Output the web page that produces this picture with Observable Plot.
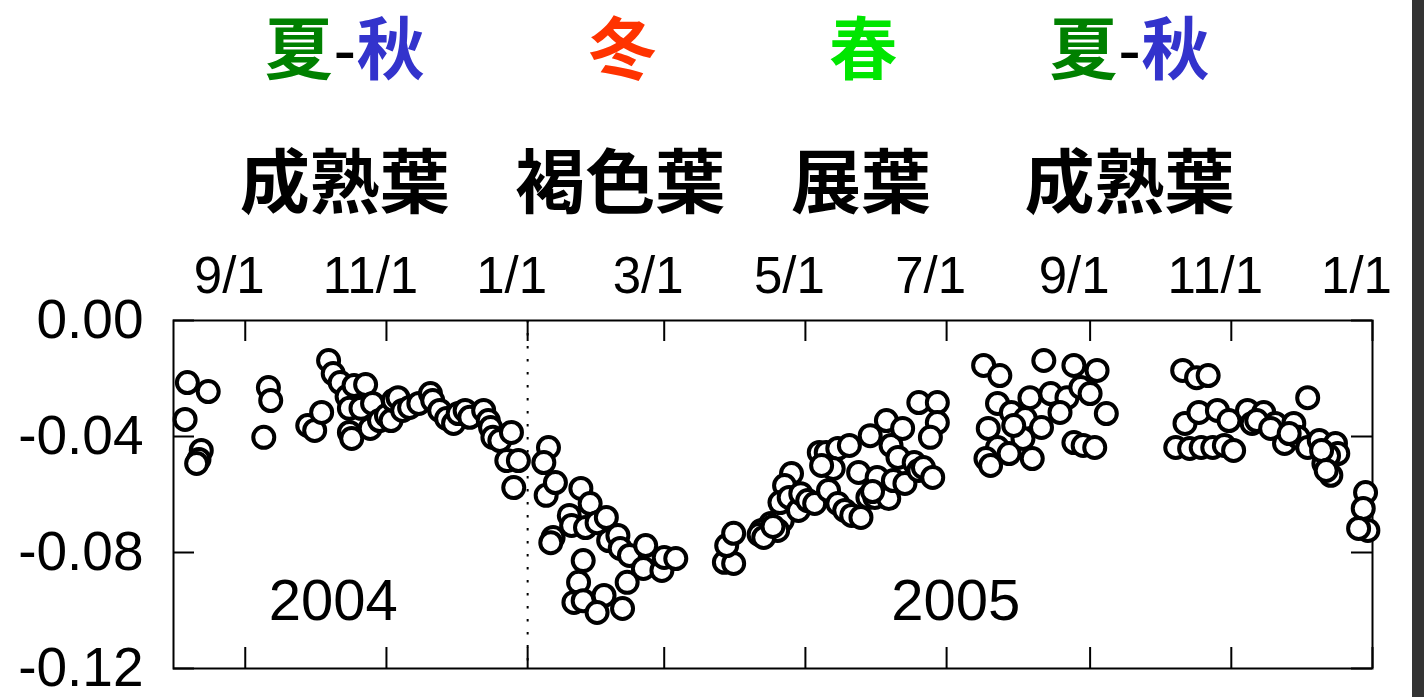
<!DOCTYPE html>
<html><head><meta charset="utf-8">
<script src="https://cdn.jsdelivr.net/npm/d3@7"></script>
<script src="https://cdn.jsdelivr.net/npm/@observablehq/plot@0.6"></script>
<style>
body{margin:0;background:#fff;overflow:hidden;width:1428px;height:697px}
#chart{position:absolute;left:0;top:0}
#edge{position:absolute;left:1412px;top:0;width:12px;height:697px;background:#333}
</style></head><body>
<div id="chart"></div><div id="edge"></div>
<script>
// ---- data ----
const dates = [
"2004-08-07","2004-08-16","2004-08-06","2004-08-13","2004-08-12","2004-08-11",
"2004-09-11","2004-09-12","2004-09-09",
"2004-09-28","2004-10-01","2004-10-04","2004-10-07","2004-10-09","2004-10-12","2004-10-15","2004-10-16","2004-10-16","2004-10-17",
"2004-10-18","2004-10-23","2004-10-21","2004-10-26","2004-10-25","2004-10-29","2004-11-01","2004-11-03","2004-11-04","2004-11-06",
"2004-11-08","2004-11-11","2004-11-15","2004-11-20","2004-11-21","2004-11-24","2004-11-27","2004-11-30","2004-12-02","2004-12-05",
"2004-12-07","2004-12-13","2004-12-15","2004-12-16","2004-12-17","2004-12-20","2004-12-25","2004-12-23","2004-12-28","2004-12-26",
"2005-01-10","2005-01-08","2005-01-09","2005-01-13","2005-01-24","2005-01-28","2005-01-19","2005-01-20","2005-01-12","2005-01-11",
"2005-01-26","2005-01-31","2005-02-04","2005-02-05","2005-02-09","2005-02-10","2005-02-14","2005-02-21","2005-02-20","2005-02-28",
"2005-03-01","2005-03-06","2005-01-25","2005-01-23","2005-01-21","2005-01-25","2005-02-03","2005-01-31","2005-02-11","2005-02-13",
"2005-03-27","2005-03-31","2005-03-28","2005-03-31",
"2005-04-14","2005-04-16","2005-04-21","2005-04-19","2005-04-12","2005-04-25","2005-04-22","2005-04-20","2005-04-24","2005-04-28",
"2005-04-29","2005-05-02","2005-05-05","2005-05-07","2005-05-10","2005-05-15","2005-05-20","2005-05-13","2005-05-11","2005-05-15",
"2005-05-18","2005-05-21","2005-05-25","2005-05-24","2005-05-28","2005-06-01","2005-05-31","2005-06-06","2005-06-05","2005-05-29",
"2005-06-07","2005-06-12","2005-06-10","2005-06-08","2005-06-13","2005-06-17","2005-06-19","2005-06-21","2005-06-25","2005-06-19",
"2005-06-27","2005-06-27","2005-06-24",
"2005-04-11","2005-04-13","2005-04-17","2005-05-08","2005-05-30",
"2005-07-17","2005-07-24","2005-08-12","2005-08-25","2005-09-04","2005-07-23","2005-07-29","2005-08-06","2005-08-15","2005-08-22",
"2005-08-28","2005-09-01","2005-09-08","2005-07-19","2005-08-04","2005-08-11","2005-08-19","2005-08-03","2005-07-23","2005-07-28",
"2005-08-07","2005-07-18","2005-07-20","2005-07-30","2005-08-25","2005-08-29","2005-09-03",
"2005-10-11","2005-10-17","2005-10-22","2005-12-04","2005-10-12","2005-10-18","2005-10-26","2005-10-31","2005-11-08","2005-11-15",
"2005-10-08","2005-10-14","2005-10-19","2005-10-24","2005-10-29","2005-11-02","2005-11-10","2005-11-20","2005-11-24","2005-11-28",
"2005-11-30","2005-12-04","2005-12-09","2005-12-11","2005-12-14","2005-12-16","2005-12-17","2005-12-29","2005-12-28","2005-12-30",
"2005-12-26","2005-11-12","2005-11-18","2005-11-26","2005-12-13","2005-12-10","2005-12-12"
];
const values = [
-0.0214,-0.0245,-0.0341,-0.0448,-0.0479,-0.0493,
-0.0231,-0.0276,-0.0403,
-0.0362,-0.0379,-0.0317,-0.0138,-0.0183,-0.0214,-0.0262,-0.0303,-0.0386,-0.0407,
-0.0224,-0.0221,-0.0303,-0.0286,-0.0372,-0.0345,-0.0328,-0.0345,-0.0276,-0.0266,
-0.0310,-0.0300,-0.0286,-0.0252,-0.0276,-0.0310,-0.0338,-0.0355,-0.0321,-0.0310,
-0.0334,-0.0310,-0.0345,-0.0369,-0.0403,-0.0414,-0.0386,-0.0483,-0.0483,-0.0576,
-0.0438,-0.0490,-0.0603,-0.0559,-0.0579,-0.0631,-0.0672,-0.0707,-0.0748,-0.0766,
-0.0714,-0.0697,-0.0679,-0.0759,-0.0741,-0.0786,-0.0810,-0.0776,-0.0855,-0.0862,
-0.0817,-0.0821,-0.0828,-0.0903,-0.0972,-0.0966,-0.0948,-0.1007,-0.0993,-0.0903,
-0.0834,-0.0838,-0.0776,-0.0734,
-0.0731,-0.0700,-0.0690,-0.0724,-0.0724,-0.0528,-0.0569,-0.0628,-0.0610,-0.0655,
-0.0597,-0.0621,-0.0631,-0.0455,-0.0455,-0.0441,-0.0431,-0.0510,-0.0586,-0.0631,
-0.0655,-0.0672,-0.0679,-0.0524,-0.0610,-0.0541,-0.0610,-0.0614,-0.0345,-0.0397,
-0.0431,-0.0372,-0.0472,-0.0552,-0.0562,-0.0490,-0.0517,-0.0507,-0.0541,-0.0283,
-0.0283,-0.0352,-0.0403,
-0.0738,-0.0748,-0.0710,-0.0500,-0.0590,
-0.0155,-0.0190,-0.0138,-0.0155,-0.0172,-0.0286,-0.0317,-0.0266,-0.0252,-0.0266,
-0.0231,-0.0252,-0.0321,-0.0372,-0.0338,-0.0369,-0.0317,-0.0407,-0.0438,-0.0459,
-0.0476,-0.0476,-0.0500,-0.0362,-0.0421,-0.0431,-0.0438,
-0.0172,-0.0197,-0.0190,-0.0266,-0.0355,-0.0317,-0.0310,-0.0345,-0.0310,-0.0317,
-0.0438,-0.0441,-0.0438,-0.0438,-0.0431,-0.0448,-0.0355,-0.0355,-0.0424,-0.0355,
-0.0403,-0.0438,-0.0414,-0.0493,-0.0534,-0.0424,-0.0459,-0.0593,-0.0648,-0.0724,
-0.0717,-0.0345,-0.0372,-0.0390,-0.0466,-0.0448,-0.0517
];
const tickDates = ["2004-09-01","2004-11-01","2005-01-01","2005-03-01","2005-05-01","2005-07-01","2005-09-01","2005-11-01","2006-01-01"];
const tickLabels = ["9/1","11/1","1/1","3/1","5/1","7/1","9/1","11/1","1/1"];
const yTicks = [0, -0.04, -0.08, -0.12];
const yearBreak = "2005-01-01";
const yearDates = ["2004-10-09","2005-07-05"];
const yearLabels = ["2004","2005"];
const yearValue = -0.097;
const seasonDates = ["2004-10-14","2005-02-11","2005-05-26","2005-09-18"];
const seasonLabels = ["夏-秋","冬","春","夏-秋"];
const seasonColors = {"夏":"#008000","秋":"#3333cc","冬":"#ff3300","春":"#00e600"};
const leafDates = ["2004-10-14","2005-02-10","2005-05-25","2005-09-18"];
const leafLabels = ["成熟葉","褐色葉","展葉","成熟葉"];

// ---- build ----
const parse = d3.utcParse("%Y-%m-%d");
const points = dates.map((d, i) => ({date: parse(d), value: values[i]}));
const ticks = tickDates.map(parse);
const labelOf = new Map(ticks.map((t, i) => [+t, tickLabels[i]]));
const years = yearDates.map((d, i) => ({date: parse(d), text: yearLabels[i]}));
const leaves = leafDates.map((d, i) => ({date: parse(d), text: leafLabels[i]}));
const singles = [], firsts = [], dashes = [], seconds = [];
seasonDates.forEach((d, i) => {
  const date = parse(d), lab = seasonLabels[i];
  if (lab.includes("-")) {
    const [a, b] = lab.split("-");
    firsts.push({date, text: a, color: seasonColors[a]});
    dashes.push({date, text: "-", color: "black"});
    seconds.push({date, text: b, color: seasonColors[b]});
  } else singles.push({date, text: lab, color: seasonColors[lab]});
});

const CJK = "'Noto Sans CJK JP', 'Noto Sans CJK SC', sans-serif";
const seasonOpts = {x: "date", text: "text", fill: "color", frameAnchor: "top", dy: -268, lineAnchor: "middle",
  fontSize: 68, fontWeight: "bold", fontFamily: CJK};

const plot = Plot.plot({
  width: 1428, height: 697,
  marginLeft: 173, marginRight: 56, marginTop: 320, marginBottom: 29,
  style: {background: "white", fontFamily: "'Liberation Sans', Arial, sans-serif", color: "black", overflow: "visible"},
  x: {type: "utc", domain: [parse("2004-08-01"), parse("2006-01-01")], label: null},
  y: {domain: [-0.12, 0], label: null},
  color: {type: "identity"},
  marks: [
    Plot.ruleX([parse(yearBreak)], {stroke: "black", strokeWidth: 2, strokeDasharray: "2.5,10.5"}),
    Plot.ruleX(ticks, {stroke: "black", strokeWidth: 2, insetBottom: 327}),
    Plot.ruleX(ticks, {stroke: "black", strokeWidth: 2, insetTop: 327}),
    Plot.ruleY(yTicks, {stroke: "black", strokeWidth: 2, insetRight: 1178}),
    Plot.ruleY(yTicks, {stroke: "black", strokeWidth: 2, insetLeft: 1178}),
    Plot.frame({stroke: "black", strokeWidth: 2}),
    Plot.dot(points, {x: "date", y: "value", r: 10.5, stroke: "black", strokeWidth: 4, fill: "white"}),
    Plot.axisX(ticks, {anchor: "top", tickSize: 0, tickPadding: 28, dx: -16, fontSize: 51,
      tickFormat: d => labelOf.get(+d), label: null}),
    Plot.axisY(yTicks, {anchor: "left", tickSize: 0, tickPadding: 30, fontSize: 55,
      tickFormat: d => d.toFixed(2), label: null}),
    Plot.text(years, {x: "date", y: () => yearValue, text: "text", fontSize: 58, lineAnchor: "middle"}),
    Plot.text(singles, {...seasonOpts}),
    Plot.text(firsts, {...seasonOpts, textAnchor: "end", dx: -12}),
    Plot.text(dashes, {...seasonOpts, fontWeight: "normal", fontFamily: "'Liberation Sans', Arial, sans-serif"}),
    Plot.text(seconds, {...seasonOpts, textAnchor: "start", dx: 12}),
    Plot.text(leaves, {x: "date", text: "text", frameAnchor: "top", dy: -135, lineAnchor: "middle",
      fontSize: 70, fontWeight: "bold", fontFamily: CJK, fill: "black"})
  ]
});
document.getElementById("chart").append(plot);
</script>
</body></html>
